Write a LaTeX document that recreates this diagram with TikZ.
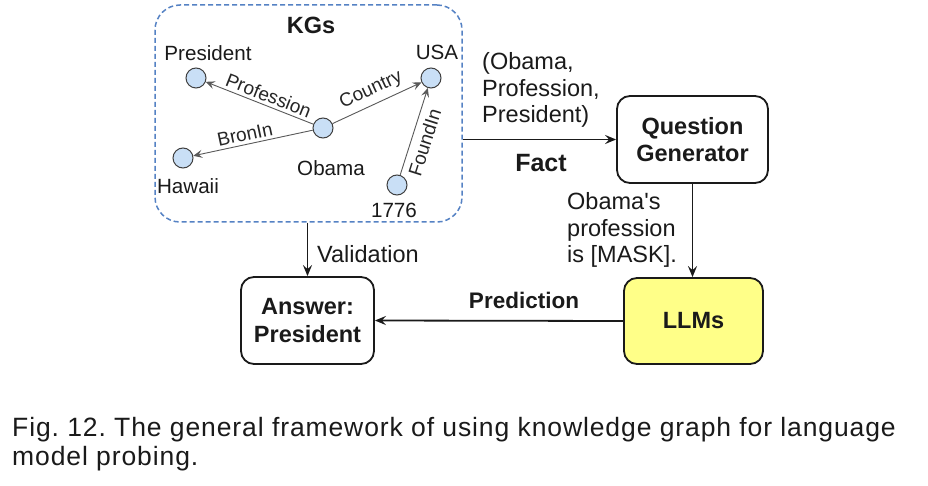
\documentclass[tikz,border=0pt]{standalone}
\usepackage{fontspec}
\setmainfont{Liberation Sans}
\newfontfamily\capfont[LetterSpace=3.4]{Liberation Sans}
\usetikzlibrary{arrows.meta}
\definecolor{kgblue}{HTML}{5582C4}
\definecolor{entfill}{HTML}{C9DFF6}
\definecolor{llmyellow}{HTML}{FFFF88}
\definecolor{ink}{HTML}{1A1A1A}

\begin{document}

\begin{tikzpicture}[x=1pt,y=-1pt,
  every node/.style={text=ink},
  box/.style={draw=ink, line width=1.8pt, rounded corners=13pt, align=center,
    font=\bfseries\fontsize{23.5}{27.5}\selectfont},
  ent/.style={circle, draw=black!75, fill=entfill, line width=1pt, minimum size=20pt, inner sep=0pt},
  ename/.style={font=\fontsize{20.6}{24}\selectfont},
  elab/.style={font=\fontsize{19}{22}\selectfont, text=black!85, inner sep=3pt},
  lab/.style={font=\fontsize{23.5}{26.5}\selectfont, align=left, inner sep=0pt},
  blab/.style={font=\bfseries\fontsize{23.5}{27}\selectfont, inner sep=0pt},
  arr/.style={-{Stealth[length=11pt,width=9pt,inset=4pt]}, line width=1.8pt, draw=ink},
  kgarr/.style={-{Stealth[length=9pt,width=8pt,inset=3.5pt]}, line width=0.9pt, draw=black!65}
]
\useasboundingbox (0,0) rectangle (928,486);
\fill[white] (0,0) rectangle (928,486);

% KG container
\node[draw=kgblue, dash pattern=on 5pt off 3pt, line width=1.5pt, rounded corners=25pt,
  minimum width=307pt, minimum height=217pt, inner sep=0pt] (kg) at (308.5,113.5) {};
\node[blab] (kgt) at (311,25) {KGs};

% entities
\node[ent] (pr) at (196,78) {};
\node[ent] (us) at (431,78) {};
\node[ent] (ob) at (323,128) {};
\node[ent] (hw) at (183,158) {};
\node[ent] (yr) at (397,185) {};
\node[ename] (prt) at (208,53) {President};
\node[ename] (ust) at (437,52) {USA};
\node[ename] (obt) at (331,168) {Obama};
\node[ename] (hwt) at (188,186) {Hawaii};
\node[ename] (yrt) at (394,210) {1776};

\draw[kgarr] (ob) -- node[elab, sloped, above, pos=0.45] {Profession} (pr);
\draw[kgarr] (ob) -- node[elab, sloped, above, inner sep=5pt] {Country} (us);
\draw[kgarr] (ob) -- node[elab, sloped, above, pos=0.55] {BronIn} (hw);
\draw[kgarr] (yr) -- node[elab, sloped, below, pos=0.42, inner sep=6pt] {FoundIn} (us);

% boxes
\node[box, minimum width=151pt, minimum height=87pt] (qg) at (692.5,139.5) {Question\\Generator};
\node[box, fill=llmyellow, minimum width=139pt, minimum height=86pt] (llm) at (693.5,321) {LLMs};
\node[box, minimum width=133pt, minimum height=87pt] (ans) at (307.5,320.5) {Answer:\\President};

% connectors
\draw[arr] (kg.east |- qg.west) -- (qg.west);
\draw[arr] (qg.south) -- (qg.south |- llm.north);
\draw[arr] (llm.west) -- (ans.east);
\draw[arr] (kg.south -| ans.north) -- (ans.north);

% labels
\node[lab, anchor=west] (fact3) at (482,90) {(Obama,\\Profession,\\President)};
\node[font=\bfseries\fontsize{25}{28}\selectfont, inner sep=0pt] (fact) at (541,163) {Fact};
\node[lab, anchor=west] (mask) at (567,230) {Obama\textquotesingle s\\profession\\is [MASK].};
\node[lab, anchor=west] (val) at (317,254) {Validation};
\node[font=\bfseries\fontsize{22.5}{27}\selectfont, inner sep=0pt] (pred) at (524,300) {Prediction};

% caption
\node[font=\capfont\fontsize{26.5}{29}\selectfont, align=left, anchor=base west, inner sep=0pt] (cap) at (12,465)
  {\frenchspacing Fig. 12. The general framework of using knowledge graph for language\\model probing.};
\end{tikzpicture}

\end{document}
